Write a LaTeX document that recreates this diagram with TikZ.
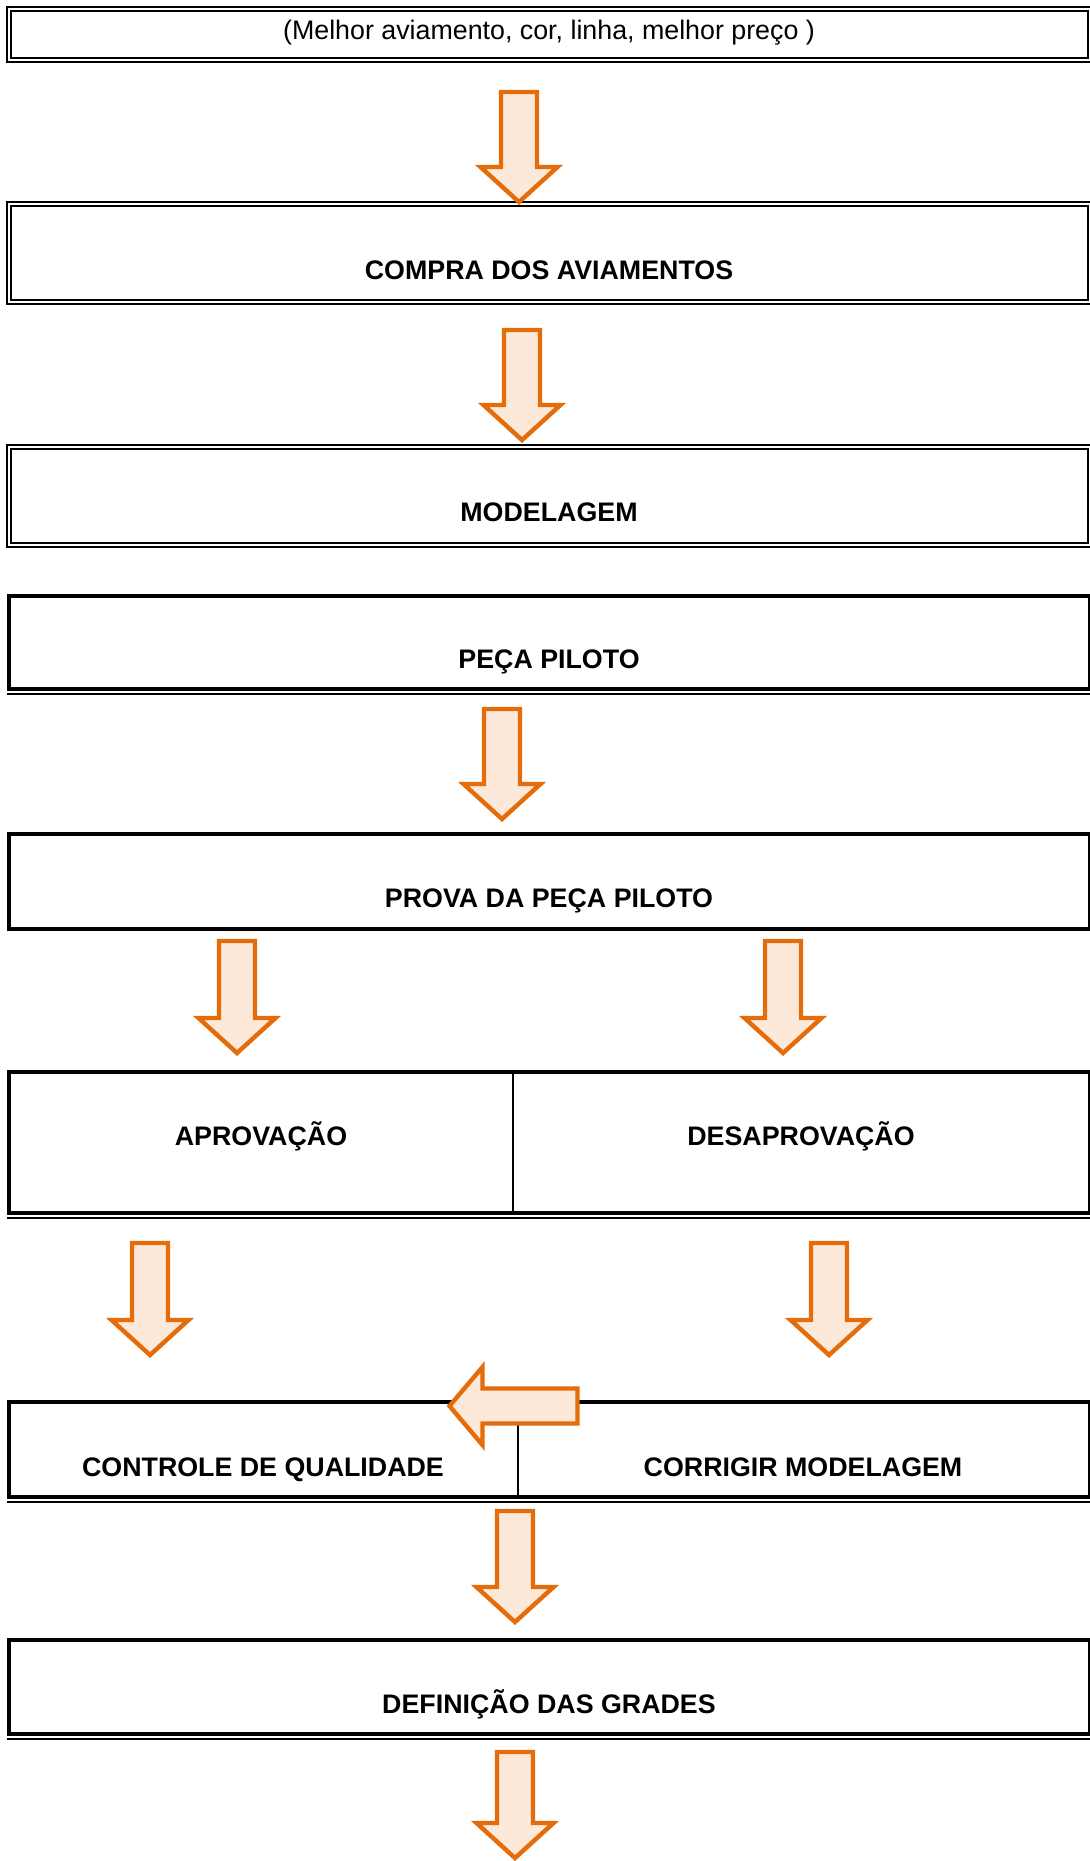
\documentclass[tikz,border=0pt]{standalone}
\usepackage{fontspec}
\setmainfont{Liberation Sans}
\definecolor{setaborda}{HTML}{E46C0A}
\definecolor{setafundo}{HTML}{FDE9D9}
\tikzset{
  caixa/.style={draw, rectangle, inner sep=0pt, minimum width=540.25pt},
  caixadupla/.style={caixa, line width=1pt, double, double distance=1pt},
  caixagrossa/.style={caixa, line width=1.7pt},
  filete/.style={line width=0.8pt},
  divisor/.style={line width=1.2pt},
  rotulo/.style={inner sep=0pt, text height=9.6pt, text depth=0pt, font=\fontsize{13.4pt}{16pt}\selectfont\bfseries},
  seta/.style={draw=setaborda, fill=setafundo, line width=2.2pt, miter limit=10},
}
% seta de bloco para baixo: x, topo, ponta
\newcommand{\setabaixo}[3]{%
  \draw[seta] (#1-18,#2) -- (#1+18,#2) -- (#1+18,#3-35) -- (#1+38.5,#3-35) -- (#1,#3)
    -- (#1-38.5,#3-35) -- (#1-18,#3-35) -- cycle;}
% seta de bloco para a esquerda: ponta x, y, fim x
\newcommand{\setaesquerda}[3]{%
  \draw[seta] (#1,#2) -- (#1+33,#2-39) -- (#1+33,#2-17.5) -- (#3,#2-17.5) -- (#3,#2+17.5)
    -- (#1+33,#2+17.5) -- (#1+33,#2+39) -- cycle;}
\begin{document}
\begin{tikzpicture}[x=0.5pt,y=-0.5pt]
\useasboundingbox (0,0) rectangle (1090,1861);
% caixas
\node[caixadupla, minimum height=25.5pt] (oferta) at (549.25,34.5) {};
\node[caixadupla, minimum height=48.75pt] (compra) at (549.25,253.25) {};
\node[caixadupla, minimum height=48.75pt] (modelagem) at (549.25,495.75) {};
\node[caixagrossa, minimum height=46.5pt] (peca) at (549.25,642.5) {};
\node[caixagrossa, minimum height=47.5pt] (prova) at (549.25,881.5) {};
\node[caixagrossa, minimum height=70.5pt] (decisao) at (549.25,1142.5) {};
\node[caixagrossa, minimum height=47.5pt] (controle) at (549.25,1449.5) {};
\node[caixagrossa, minimum height=47pt] (grades) at (549.25,1687) {};
\foreach \c in {peca,decisao,controle,grades}
  \draw[filete] ([yshift=-1.75pt]\c.south west) -- ([yshift=-1.75pt]\c.south east);
% divisoes das tabelas
\coordinate (d1) at (513,1142.5);
\coordinate (d2) at (518,1449.5);
\draw[divisor] (d1 |- decisao.north) -- (d1 |- decisao.south);
\draw[divisor] (d2 |- controle.north) -- (d2 |- controle.south);
% textos
\node[inner sep=0pt, text height=9.6pt, text depth=0pt, font=\fontsize{13.4pt}{16pt}\selectfont] (toferta) at (549,30) {(Melhor aviamento, cor, linha, melhor preço )};
\node[rotulo] (tcompra) at (549,269.5) {COMPRA DOS AVIAMENTOS};
\node[rotulo] (tmodelagem) at (549,511.5) {MODELAGEM};
\node[rotulo] (tpeca) at (549,658.5) {PEÇA PILOTO};
\node[rotulo] (tprova) at (549,897.5) {PROVA DA PEÇA PILOTO};
\node[rotulo] (taprov) at (261,1135.5) {APROVAÇÃO};
\node[rotulo] (tdesaprov) at (801,1135.5) {DESAPROVAÇÃO};
\node[rotulo] (tcontrole) at (263,1466.5) {CONTROLE DE QUALIDADE};
\node[rotulo] (tcorrigir) at (803,1466.5) {CORRIGIR MODELAGEM};
\node[rotulo] (tgrades) at (549,1703.5) {DEFINIÇÃO DAS GRADES};
% setas
\setabaixo{519}{92}{202}
\setabaixo{522}{330}{440}
\setabaixo{502}{709}{819}
\setabaixo{237}{941}{1053}
\setabaixo{783}{941}{1053}
\setabaixo{150}{1243}{1355}
\setabaixo{829}{1243}{1355}
\setaesquerda{449.5}{1406}{577.5}
\setabaixo{515}{1511}{1622}
\setabaixo{515}{1752}{1858}
\end{tikzpicture}
\end{document}
